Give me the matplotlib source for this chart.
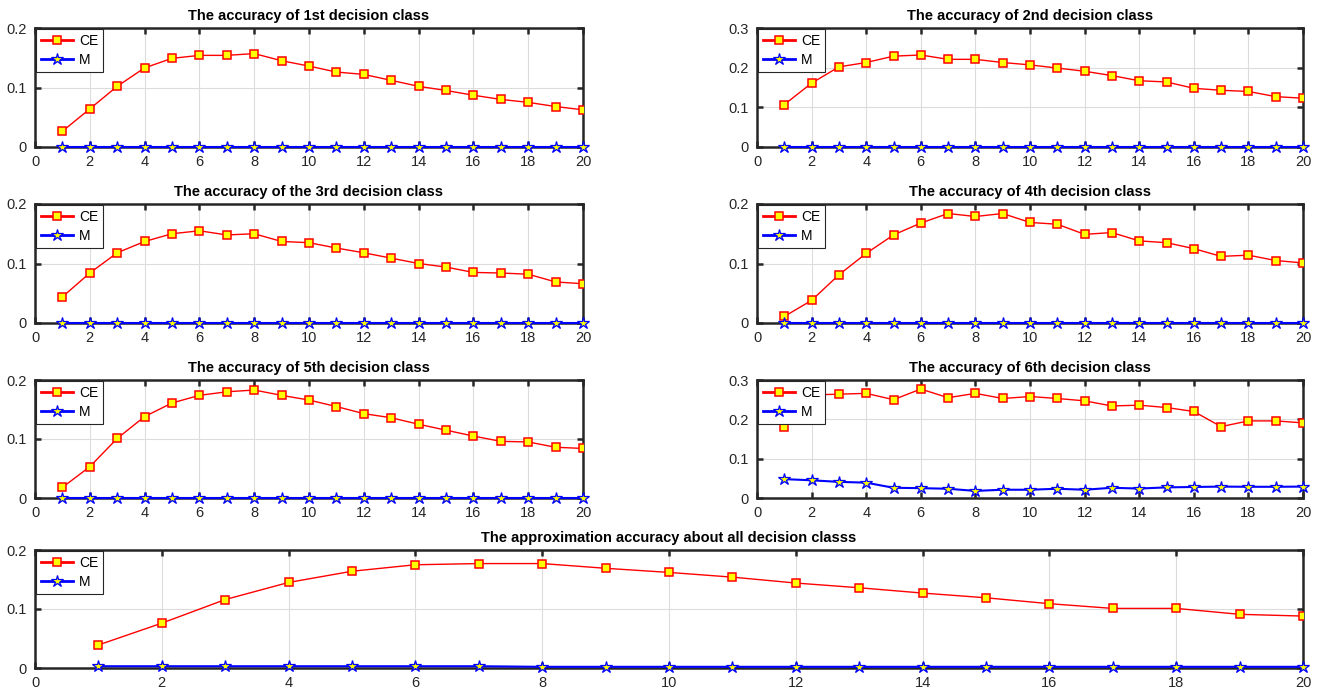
import matplotlib
matplotlib.use("Agg")
import matplotlib.pyplot as plt
from matplotlib.lines import Line2D
import numpy as np

plt.rcParams["font.family"] = ["Liberation Sans", "DejaVu Sans"]
plt.rcParams["font.size"] = 10

# ---------- Data ----------
k = list(range(1, 21))

ce_1 = [0.0265, 0.064, 0.102, 0.133, 0.149, 0.154, 0.154, 0.157, 0.145, 0.136,
        0.126, 0.122, 0.112, 0.102, 0.095, 0.087, 0.080, 0.075, 0.068, 0.0625]
ce_2 = [0.107, 0.161, 0.202, 0.213, 0.229, 0.232, 0.221, 0.221, 0.213, 0.207,
        0.199, 0.191, 0.180, 0.167, 0.164, 0.148, 0.143, 0.140, 0.127, 0.123]
ce_3 = [0.044, 0.084, 0.118, 0.137, 0.150, 0.155, 0.148, 0.150, 0.137, 0.135,
        0.126, 0.118, 0.109, 0.100, 0.094, 0.085, 0.084, 0.082, 0.069, 0.066]
ce_4 = [0.011, 0.038, 0.081, 0.117, 0.148, 0.168, 0.184, 0.179, 0.184, 0.169,
        0.166, 0.149, 0.152, 0.138, 0.135, 0.125, 0.112, 0.114, 0.105, 0.101]
ce_5 = [0.018, 0.053, 0.101, 0.138, 0.161, 0.174, 0.180, 0.183, 0.174, 0.166,
        0.155, 0.143, 0.136, 0.125, 0.115, 0.105, 0.096, 0.095, 0.086, 0.084]
ce_6 = [0.1815, 0.262, 0.264, 0.266, 0.250, 0.277, 0.255, 0.266, 0.253, 0.258,
        0.253, 0.247, 0.234, 0.236, 0.230, 0.220, 0.1815, 0.196, 0.196, 0.191]
ce_all = [0.039, 0.076, 0.116, 0.145, 0.164, 0.175, 0.177, 0.177, 0.169, 0.162,
          0.154, 0.144, 0.136, 0.127, 0.119, 0.109, 0.101, 0.101, 0.091, 0.088]

m_1 = [0.0] * 20
m_2 = [0.0] * 20
m_3 = [0.0] * 20
m_4 = [0.0] * 20
m_5 = [0.0] * 20
m_6 = [0.048, 0.045, 0.041, 0.039, 0.026, 0.025, 0.0235, 0.018, 0.021, 0.021,
       0.0235, 0.021, 0.026, 0.024, 0.027, 0.028, 0.029, 0.0285, 0.0285, 0.029]
m_all = [0.003, 0.003, 0.003, 0.003, 0.003, 0.003, 0.003, 0.002, 0.002, 0.002,
         0.002, 0.002, 0.002, 0.002, 0.002, 0.002, 0.002, 0.002, 0.002, 0.002]

titles = [
    "The accuracy of 1st decision class",
    "The accuracy of 2nd decision class",
    "The accuracy of the 3rd decision class",
    "The accuracy of 4th decision class",
    "The accuracy of 5th decision class",
    "The accuracy of 6th decision class",
    "The approximation accuracy about all decision classs",
]
ce_series = [ce_1, ce_2, ce_3, ce_4, ce_5, ce_6, ce_all]
m_series = [m_1, m_2, m_3, m_4, m_5, m_6, m_all]
y_tops = [0.2, 0.3, 0.2, 0.2, 0.2, 0.3, 0.2]

# ---------- Layout (figure fractions) ----------
W, H = 1322, 697
col_left = [35 / W, 757 / W]
col_width = [548 / W, 546 / W]
row_top = [28, 204, 380, 550]
row_bot = [147, 323, 498, 668]

AX_COLOR = "#262626"
CE_STYLE = dict(color="red", marker="s", ms=5.5, mfc="yellow", mec="red", mew=1.1)
M_STYLE = dict(color="blue", marker="*", ms=9, mfc="yellow", mec="blue", mew=0.9)

fig = plt.figure(figsize=(W / 100, H / 100), dpi=100)

boxes = []
for r in range(3):
    for c in range(2):
        boxes.append([col_left[c], 1 - row_bot[r] / H, col_width[c],
                      (row_bot[r] - row_top[r]) / H])
boxes.append([35 / W, 1 - row_bot[3] / H, (1303 - 35) / W,
              (row_bot[3] - row_top[3]) / H])

for box, title, ce, m, ytop in zip(boxes, titles, ce_series, m_series, y_tops):
    ax = fig.add_axes(box)
    ax.plot(k, ce, lw=1, zorder=3, **CE_STYLE)
    ax.plot(k, m, lw=1.5, zorder=4, clip_on=False, **M_STYLE)

    ax.set_xlim(0, 20)
    ax.set_ylim(0, ytop)
    ax.set_xticks(np.arange(0, 21, 2))
    yt = np.arange(0, ytop + 0.001, 0.1)
    ax.set_yticks(yt)
    ax.set_yticklabels(["0"] + [f"{v:.1f}" for v in yt[1:]])

    ax.grid(True, color="#dcdcdc", lw=0.8)
    ax.set_axisbelow(True)
    for s in ax.spines.values():
        s.set_color(AX_COLOR)
        s.set_linewidth(1.8)
    ax.tick_params(direction="in", top=True, right=True, length=4.5, width=1.8,
                   color=AX_COLOR, labelcolor=AX_COLOR, labelsize=10.5, pad=6)

    ax.set_title(title, fontsize=10.5, fontweight="bold", pad=6)

    handles = [Line2D([], [], lw=2, **CE_STYLE), Line2D([], [], lw=2, **M_STYLE)]
    leg = ax.legend(handles, ["CE", "M"], loc="upper left", fontsize=10,
                    borderaxespad=0.1, fancybox=False, framealpha=1,
                    edgecolor=AX_COLOR, handlelength=2.3, handletextpad=0.4,
                    labelspacing=0.35, borderpad=0.35)
    leg.get_frame().set_linewidth(0.8)
    leg.set_zorder(10)

fig.savefig("out.png", dpi=100)
